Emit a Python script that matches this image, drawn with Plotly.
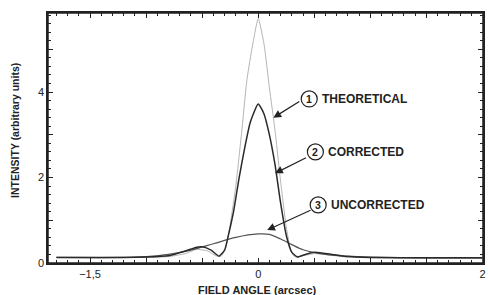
import plotly.graph_objects as go

# ---- data ----
theo_x = [-1.8, -1.2, -1.0, -0.8, -0.65, -0.55, -0.45, -0.38, -0.33, -0.29, -0.25, -0.2, -0.15, -0.1, -0.05, 0.0,
          0.05, 0.1, 0.15, 0.2, 0.25, 0.29, 0.33, 0.4, 0.5, 0.6, 0.75, 1.0, 1.5, 2.0]
theo_y = [0.13, 0.13, 0.13, 0.15, 0.22, 0.32, 0.28, 0.17, 0.16, 0.35, 0.9, 1.8, 3.0, 4.3, 5.1, 5.72,
          5.15, 4.1, 3.1, 1.9, 0.85, 0.3, 0.14, 0.17, 0.22, 0.2, 0.15, 0.13, 0.12, 0.12]

corr_x = [-1.8, -1.2, -1.0, -0.8, -0.65, -0.55, -0.5, -0.42, -0.35, -0.3, -0.27, -0.22, -0.17, -0.12, -0.07, 0.0,
          0.05, 0.1, 0.15, 0.2, 0.25, 0.3, 0.35, 0.42, 0.5, 0.6, 0.8, 1.0, 1.5, 2.0]
corr_y = [0.13, 0.13, 0.14, 0.17, 0.28, 0.37, 0.38, 0.3, 0.16, 0.3, 0.6, 1.2, 2.0, 2.7, 3.3, 3.72,
          3.5, 3.0, 2.3, 1.4, 0.65, 0.25, 0.14, 0.2, 0.25, 0.22, 0.15, 0.13, 0.12, 0.12]

unc_x = [-1.8, -1.2, -1.0, -0.8, -0.6, -0.4, -0.2, 0.0, 0.1, 0.2, 0.3, 0.4, 0.6, 0.8, 1.0, 1.5, 2.0]
unc_y = [0.13, 0.13, 0.15, 0.2, 0.3, 0.45, 0.6, 0.68, 0.67, 0.56, 0.43, 0.31, 0.2, 0.16, 0.14, 0.12, 0.12]

x_tickvals = [-1.5, -1.0, -0.5, 0.0, 0.5, 1.0, 1.5, 2.0]
x_ticktext = ["\u22121,5", "", "", "0", "", "", "", "2"]
y_tickvals = [0, 1, 2, 3, 4, 5]
y_ticktext = ["0", "", "2", "", "4", ""]

labels = ["THEORETICAL", "CORRECTED", "UNCORRECTED"]
numbers = ["1", "2", "3"]
x_title = "FIELD ANGLE (arcsec)"
y_title = "INTENSITY (arbitrary units)"

FONT = "Liberation Sans"
INK = "#222222"
X_RANGE = [-1.875, 2.005]
Y_RANGE = [0, 5.85]

fig = go.Figure()
fig.add_trace(go.Scatter(x=theo_x, y=theo_y, mode="lines",
                         line=dict(color="#b4b4b4", width=1, shape="spline", smoothing=0.5)))
fig.add_trace(go.Scatter(x=unc_x, y=unc_y, mode="lines",
                         line=dict(color="#555555", width=1.2, shape="spline", smoothing=0.8)))
fig.add_trace(go.Scatter(x=corr_x, y=corr_y, mode="lines",
                         line=dict(color="#2a2a2a", width=1.5, shape="spline", smoothing=0.5)))
# invisible copy of one curve to carry the mirrored (top / right) tick axes
fig.add_trace(go.Scatter(x=unc_x, y=unc_y, xaxis="x2", yaxis="y2", mode="lines",
                         line=dict(width=0, color="rgba(0,0,0,0)"), hoverinfo="skip"))

# annotation geometry (circle centres, arrow tips, arrow tails) in data units
circ = [(0.455, 3.84), (0.51, 2.60), (0.535, 1.36)]
tips = [(0.135, 3.40), (0.15, 2.10), (0.08, 0.77)]
tails = [(0.38, 3.80), (0.44, 2.48), (0.48, 1.25)]

shapes = [dict(type="rect", xref="paper", yref="paper", x0=0, x1=1, y0=0, y1=1,
               line=dict(color=INK, width=1.5), layer="above")]
annotations = []
for (cx, cy), (tx, ty), (ax_, ay_), num, lab in zip(circ, tips, tails, numbers, labels):
    shapes.append(dict(type="circle", xref="x", yref="y", xsizemode="pixel", ysizemode="pixel",
                       xanchor=cx, yanchor=cy, x0=-8, x1=8, y0=-8, y1=8,
                       line=dict(color=INK, width=1.2), fillcolor="white"))
    annotations.append(dict(x=cx, y=cy, xref="x", yref="y", text="<b>%s</b>" % num, showarrow=False,
                            font=dict(family=FONT, size=10.5, color=INK)))
    annotations.append(dict(x=cx, y=cy, xref="x", yref="y", text="<b>%s</b>" % lab, showarrow=False,
                            xanchor="left", xshift=11, font=dict(family=FONT, size=12, color=INK)))
    annotations.append(dict(x=tx, y=ty, xref="x", yref="y", ax=ax_, ay=ay_, axref="x", ayref="y",
                            text="", showarrow=True, arrowhead=2, arrowsize=1.3, arrowwidth=1.2,
                            arrowcolor=INK))

annotations.append(dict(x=0.4816, y=-0.108, xref="paper", yref="paper", text="<b>%s</b>" % x_title,
                        showarrow=False, xanchor="center", yanchor="middle",
                        font=dict(family=FONT, size=11, color=INK)))
annotations.append(dict(x=-0.076, y=0.532, xref="paper", yref="paper", text="<b>%s</b>" % y_title,
                        showarrow=False, xanchor="center", yanchor="middle", textangle=-90,
                        font=dict(family=FONT, size=10.5, color=INK)))

common = dict(showgrid=False, zeroline=False, showline=True, linecolor=INK, linewidth=1.5,
              ticks="inside", ticklen=5, tickwidth=1.2, tickcolor=INK, tickmode="array",
              automargin=False, mirror=False)

fig.update_layout(
    width=488, height=295,
    margin=dict(l=48, r=5, t=13, b=32),
    paper_bgcolor="white", plot_bgcolor="white",
    showlegend=False,
    shapes=shapes, annotations=annotations,
    font=dict(family=FONT, color=INK),
    xaxis=dict(range=X_RANGE, tickvals=x_tickvals, ticktext=x_ticktext,
               tickfont=dict(family=FONT, size=11, color=INK),
               minor=dict(tickmode="linear", tick0=0, dtick=0.1, ticks="inside", ticklen=3,
                          tickwidth=1, tickcolor=INK), **common),
    yaxis=dict(range=Y_RANGE, tickvals=y_tickvals, ticktext=y_ticktext,
               tickfont=dict(family=FONT, size=11, color=INK),
               minor=dict(tickmode="linear", tick0=0, dtick=0.2, ticks="inside", ticklen=3,
                          tickwidth=1, tickcolor=INK), **common),
    xaxis2=dict(range=X_RANGE, overlaying="x", side="top", anchor="y2", tickvals=x_tickvals,
                showticklabels=False,
                minor=dict(tickmode="linear", tick0=0, dtick=0.1, ticks="inside", ticklen=3,
                           tickwidth=1, tickcolor=INK), **common),
    yaxis2=dict(range=Y_RANGE, overlaying="y", side="right", anchor="x2", tickvals=y_tickvals,
                showticklabels=False,
                minor=dict(tickmode="linear", tick0=0, dtick=0.2, ticks="inside", ticklen=3,
                           tickwidth=1, tickcolor=INK), **common),
)

fig.write_html("out.html", config={"displayModeBar": False},
               post_script="document.documentElement.style.overflow='hidden';"
                           "document.body.style.margin='0';document.body.style.padding='0';"
                           "document.body.style.overflow='hidden';")
